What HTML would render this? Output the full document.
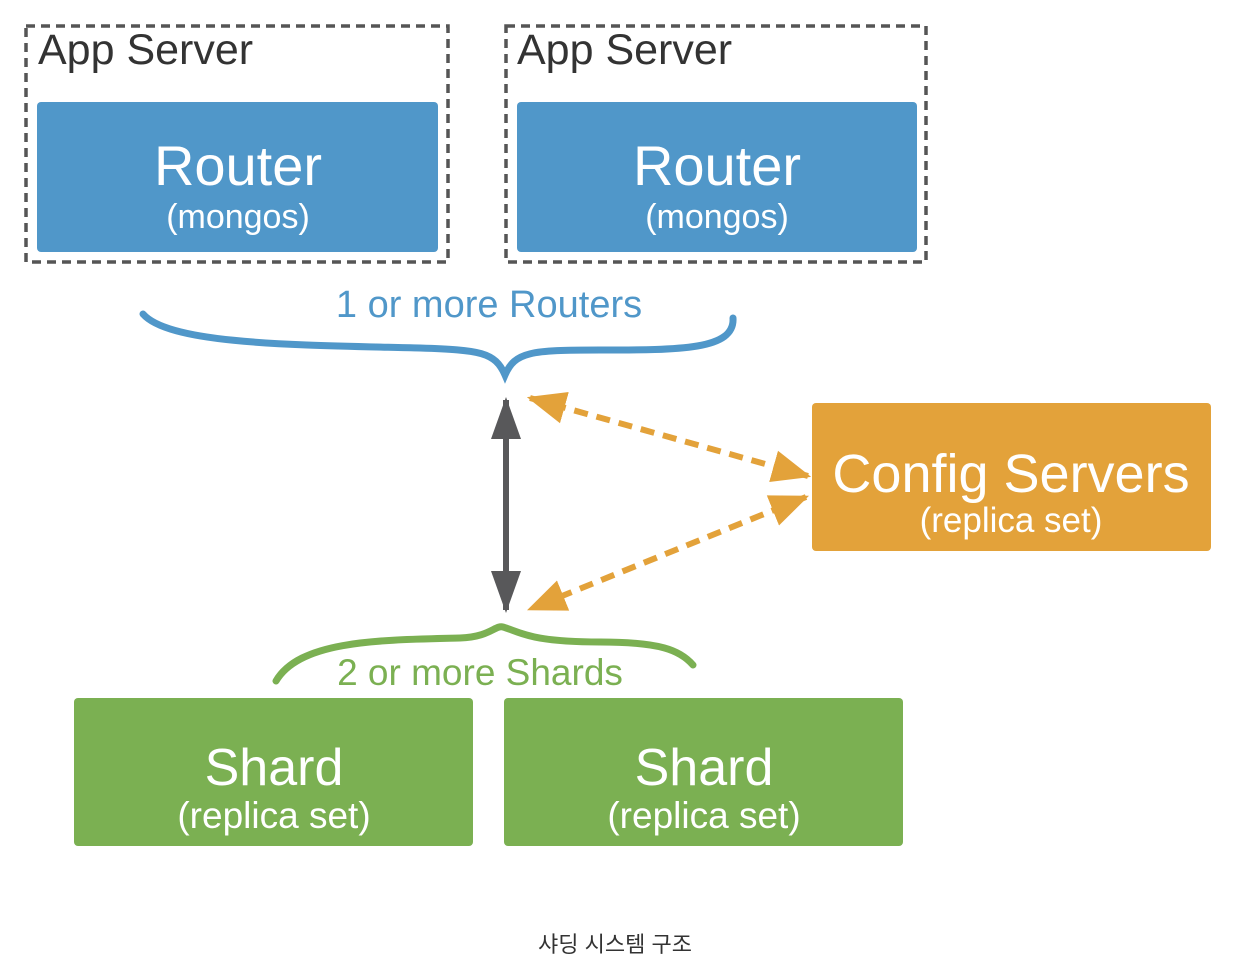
<!DOCTYPE html>
<html><head><meta charset="utf-8"><style>
body{margin:0;background:#fff;width:1248px;height:980px;overflow:hidden}
svg{display:block}
text{font-family:"Liberation Sans","DejaVu Sans",sans-serif}
</style></head><body>
<svg width="1248" height="980" viewBox="0 0 1248 980">
<defs>
<marker id="g" viewBox="0 0 14 10" refX="13" refY="5" markerWidth="7" markerHeight="5" orient="auto-start-reverse"><path d="M0,0L14,5L0,10z" fill="#58585a"/></marker>
<marker id="o" viewBox="0 0 12 10" refX="11" refY="5" markerWidth="6.5" markerHeight="5.5" orient="auto-start-reverse"><path d="M0,0L12,5L0,10z" fill="#e3a23a"/></marker>
</defs>
<rect x="26" y="26" width="422" height="236" fill="none" stroke="#555" stroke-width="3.5" stroke-dasharray="9,6"/>
<rect x="506" y="26" width="420" height="236" fill="none" stroke="#555" stroke-width="3.5" stroke-dasharray="9,6"/>
<text x="38" y="64" font-size="43" fill="#333">App Server</text>
<text x="517" y="64" font-size="43" fill="#333">App Server</text>
<rect x="37" y="102" width="401" height="150" rx="4" fill="#5097c9"/>
<rect x="517" y="102" width="400" height="150" rx="4" fill="#5097c9"/>
<g fill="#fff" text-anchor="middle">
<text x="238" y="185" font-size="56">Router</text>
<text x="238" y="228" font-size="34">(mongos)</text>
<text x="717" y="185" font-size="56">Router</text>
<text x="717" y="228" font-size="34">(mongos)</text>
</g>
<text x="489" y="317" font-size="38" fill="#5097c9" text-anchor="middle">1 or more Routers</text>
<path d="M143,314 C170,345 300,345 420,348 C480,350 495,352 505,375 C515,352 530,350 600,350 C680,350 735,350 733,318" fill="none" stroke="#5097c9" stroke-width="7" stroke-linecap="round"/>
<line x1="506" y1="400" x2="506" y2="610" stroke="#58585a" stroke-width="6" marker-start="url(#g)" marker-end="url(#g)"/>
<line x1="530" y1="398" x2="808" y2="476" stroke="#e3a23a" stroke-width="6" stroke-dasharray="14,9" marker-start="url(#o)" marker-end="url(#o)"/>
<line x1="806" y1="497" x2="530" y2="609" stroke="#e3a23a" stroke-width="6" stroke-dasharray="14,9" marker-start="url(#o)" marker-end="url(#o)"/>
<rect x="812" y="403" width="399" height="148" rx="4" fill="#e3a23a"/>
<text x="1011" y="492" font-size="54" fill="#fff" text-anchor="middle">Config Servers</text>
<text x="1011" y="532" font-size="35" fill="#fff" text-anchor="middle">(replica set)</text>
<path d="M276,681 C300,640 380,640 460,638 C490,637 495,625 503,627 C520,632 530,642 600,642 C660,642 680,650 693,665" fill="none" stroke="#7bb052" stroke-width="7" stroke-linecap="round"/>
<text x="480" y="685" font-size="37" fill="#7bb052" text-anchor="middle">2 or more Shards</text>
<rect x="74" y="698" width="399" height="148" rx="4" fill="#7bb052"/>
<rect x="504" y="698" width="399" height="148" rx="4" fill="#7bb052"/>
<g fill="#fff" text-anchor="middle">
<text x="274" y="785" font-size="52">Shard</text>
<text x="274" y="828" font-size="37">(replica set)</text>
<text x="704" y="785" font-size="52">Shard</text>
<text x="704" y="828" font-size="37">(replica set)</text>
</g>
<text x="615" y="952" font-size="22" fill="#333" text-anchor="middle" style='font-family:"Liberation Sans","Noto Sans CJK KR",sans-serif'>샤딩 시스템 구조</text>
</svg>
</body></html>
